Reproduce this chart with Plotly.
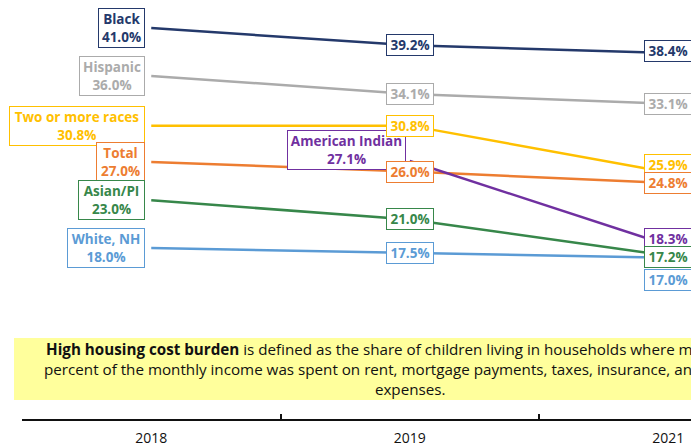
import plotly.graph_objects as go

# Share of children in households with a high housing cost burden, by race/ethnicity
years = ["2018", "2019", "2021"]

black = [41.0, 39.2, 38.4]
hispanic = [36.0, 34.1, 33.1]
two_or_more = [30.8, 30.8, 25.9]
total = [27.0, 26.0, 24.8]
american_indian = [None, 27.1, 18.3]
asian_pi = [23.0, 21.0, 17.2]
white_nh = [18.0, 17.5, 17.0]

series = [
    ("Black", black, "#24396B"),
    ("Hispanic", hispanic, "#ABABAB"),
    ("Two or more races", two_or_more, "#FFC000"),
    ("Total", total, "#ED7D31"),
    ("American Indian", american_indian, "#7030A0"),
    ("Asian/PI", asian_pi, "#37874A"),
    ("White, NH", white_nh, "#5B9BD5"),
]

note = ("<b>High housing cost burden</b> is defined as the share of children living in households where more than 30<br>"
        "percent of the monthly income was spent on rent, mortgage payments, taxes, insurance, and/or related<br>"
        "expenses.")

FONT = "Open Sans"
PLOT_H = 419  # plot-area height in px

fig = go.Figure()
for name, vals, color in series:
    fig.add_trace(go.Scatter(
        x=years, y=vals, mode="lines", name=name,
        line=dict(color=color, width=2.5), connectgaps=False,
        hoverinfo="skip",
    ))

annotations = []

def box(x_idx, y, text, color, width, xanchor="center", xshift=0, yshift=0):
    annotations.append(dict(
        x=x_idx, y=y, xref="x", yref="y", text=f"<b>{text}</b>", showarrow=False,
        xanchor=xanchor, yanchor="middle", xshift=xshift, yshift=yshift,
        font=dict(family=FONT, size=13.5, color=color),
        bgcolor="white", bordercolor=color, borderwidth=1, borderpad=1,
        width=width, align="center",
    ))

# first-year labels: series name plus value, to the left of the line start
first_widths = {"Black": 43, "Hispanic": 62, "Two or more races": 132, "Total": 45,
                "Asian/PI": 63, "White, NH": 74}
for name, vals, color in series:
    if vals[0] is not None:
        box(0, vals[0], f"{name}<br>{vals[0]:.1f}%", color, first_widths[name],
            xanchor="right", xshift=-6)

# American Indian starts in 2019
box(1, american_indian[1], f"American Indian<br>{american_indian[1]:.1f}%",
    "#7030A0", 115, xanchor="right", xshift=-4, yshift=11)

# 2019 values
for name, vals, color in series:
    if name != "American Indian":
        box(1, vals[1], f"{vals[1]:.1f}%", color, 44)

# 2021 values, nudged apart where they crowd
shifts_2021 = {"Black": 1.5, "Hispanic": 0, "Two or more races": 8, "Total": 0,
               "American Indian": 6, "Asian/PI": -1, "White, NH": -22}
for name, vals, color in series:
    box(2, vals[2], f"{vals[2]:.1f}%", color, 44, yshift=shifts_2021[name])

# definition note, centred under 2019 on a pale yellow band
annotations.append(dict(
    x=1, y=(PLOT_H - 369) / PLOT_H, xref="x", yref="paper",
    text=note, showarrow=False, xanchor="center", yanchor="middle", align="center",
    font=dict(family=FONT, size=15.2, color="#111111"),
))

shapes = [dict(
    type="rect", xref="paper", yref="paper", layer="below",
    x0=(14 - 22) / 669, x1=(808 - 22) / 669,
    y0=(PLOT_H - 400) / PLOT_H, y1=(PLOT_H - 338) / PLOT_H,
    fillcolor="#FFFF9C", line=dict(width=0),
)]

fig.update_layout(
    width=691, height=446,
    margin=dict(l=22, r=0, t=0, b=27, autoexpand=False),
    paper_bgcolor="white", plot_bgcolor="white",
    showlegend=False,
    annotations=annotations,
    shapes=shapes,
    xaxis=dict(
        type="category", range=[-0.5, -0.5 + 669 / 258.5],
        automargin=False,
        showgrid=False, zeroline=False,
        showline=True, linecolor="#111111", linewidth=2,
        ticks="inside", tickson="boundaries", ticklen=5, tickwidth=1.5, tickcolor="#111111",
        tickfont=dict(family=FONT, size=14, color="#111111"),
        ticklabelstandoff=5,
    ),
    yaxis=dict(range=[0.14, 43.93], visible=False, showgrid=False, zeroline=False,
               automargin=False),
)

fig.write_html("out.html")
